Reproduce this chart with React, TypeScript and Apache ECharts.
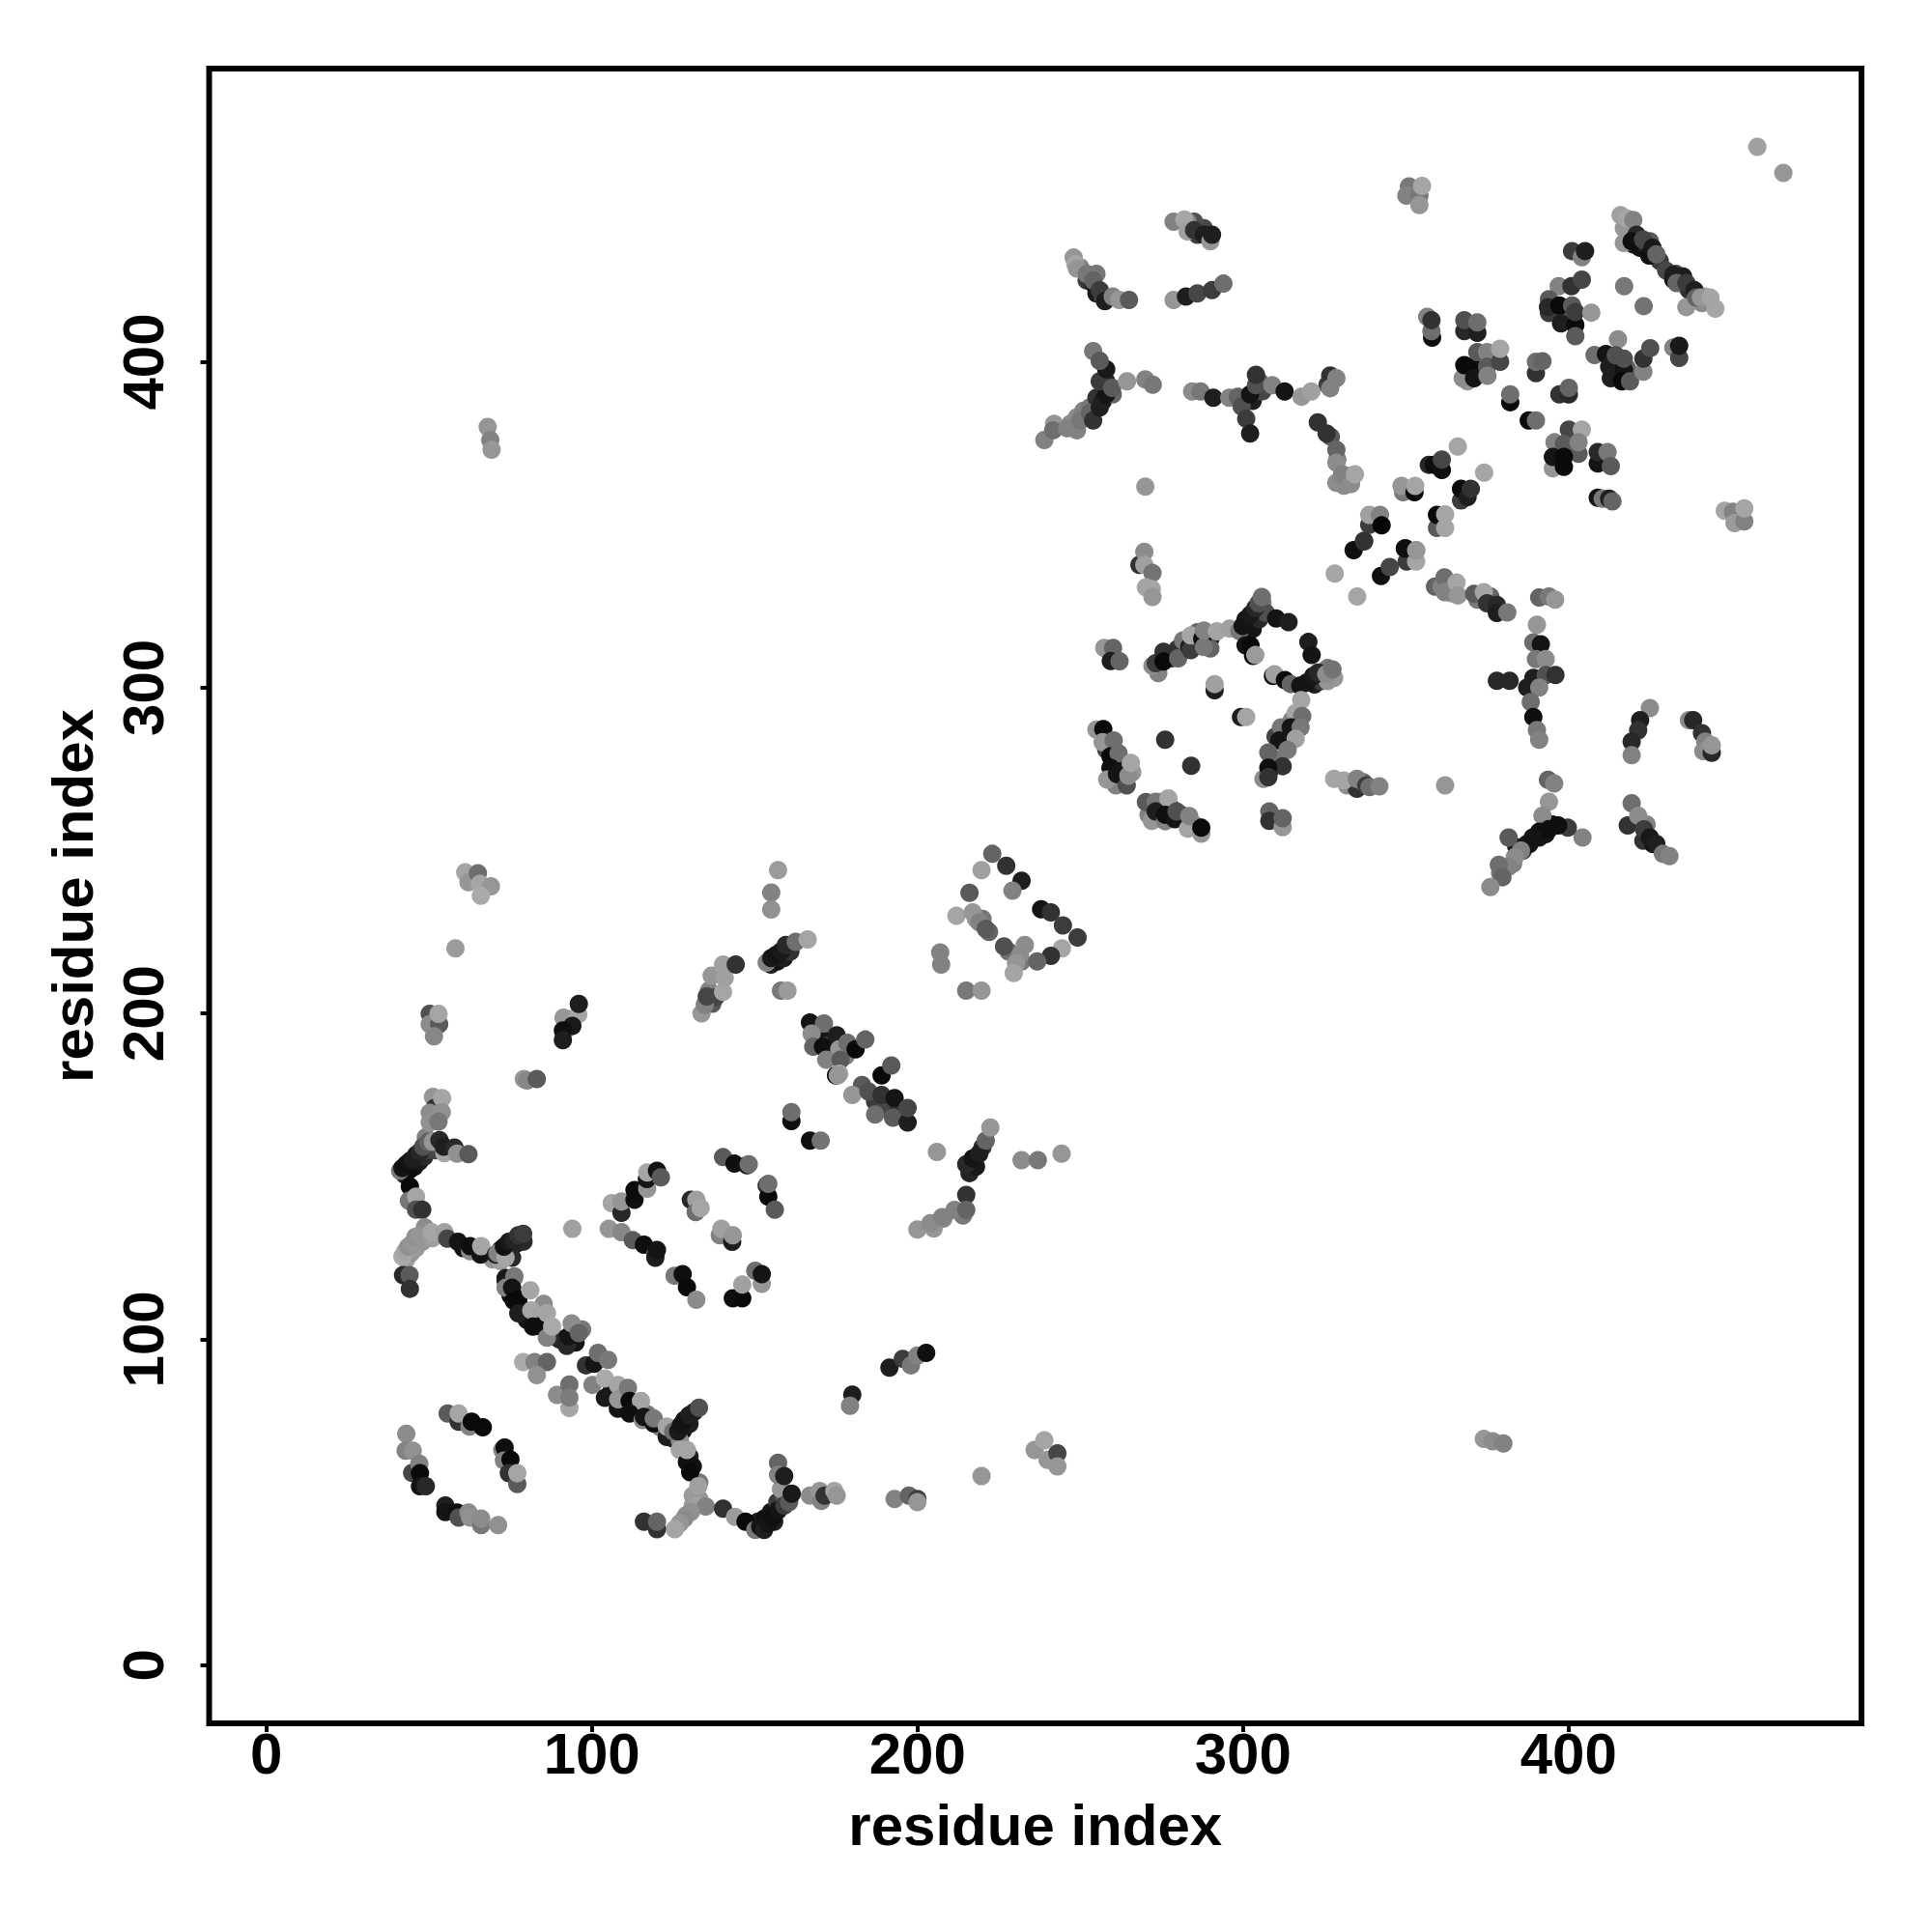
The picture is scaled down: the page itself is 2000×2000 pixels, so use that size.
import React, { useEffect, useRef } from "react";
import * as echarts from "echarts";

type P = [number, number, number];

const axisTicks = [0, 100, 200, 300, 400];
const titleText = "residue index";

// [x, y, grey level]
const fillLeft: P[] = [[42.5,150.5,30],[44,152,10],[45.5,153,15],[47,154.5,25],[48.5,156,40],[50,158,60],[52,158,70],[49,162,130],[43,124.5,160],[44.5,126.5,150],[46,128,155],[48,130,150],[51,131,160],[60.5,128,15],[69.5,124.5,150],[72,124,160],[72,127.5,30],[75,127,20],[77,129.5,30],[79,130,40],[75.5,125,40]];
const fillDescending: P[] = [[75,113.5,15],[79,109,15],[80,106,20],[83,106,90],[84,104,10],[88,101,20],[90,100,40],[95,99,20],[97,103,120],[106,84,20],[110,79,15],[113,79,15],[117,77,120],[121,73,130],[123,70,30],[125,69.5,30],[128,72,20],[130,74,30],[127,69,140],[130,64,30],[131,61,20],[133,56,120],[131,52,155],[133,51,150],[129,46,150],[131,49,155],[151,44,30],[153,45,15],[155,47,20],[157,50,60],[159,52,90],[156,44,30],[153,43,25]];
const fillMiddle: P[] = [[136,207,130],[137,203,90],[138,205,70],[155,215,30],[157,216,20],[159,217,30],[161,219,50],[93,198,40],[92,195,130],[170,193,20],[173,189,60],[178,187,130],[174,187,15],[172,190,70],[183,178,90],[187,173,60],[190,171,70],[194,170,50],[208,137,140],[205,134,150],[216,151,35],[218,153,25],[220,159,50],[214,138,120],[218,229,150],[220,229,120],[222,225,100],[228,219,110],[232,216,120],[233,221,140]];
const fillRing: P[] = [[274,304.5,130],[278,309,60],[280,312,50],[286,317,100],[290,315,40],[290,312,100],[301,316,20],[303,318,20],[305,321,40],[306,324,60],[306,326,130],[307,323,80],[322,301,30],[324,302,60],[326,302,150],[328,303,150],[326,306,120],[310,285,70],[313,283,130],[315,290,130],[316,287,100],[309,278,70],[308,274,20],[311,278,120],[258,281,70],[262,276,130],[263,272,120],[266,274,150],[261,270,130],[260,277,20],[272,263,70],[275,265,150],[278,263,40],[281,261,60],[285,258,140],[271,261,130],[332,270,140],[335,269,50],[337,271,110]];
const fillRight: P[] = [[391,254,20],[393,255,20],[395,258,15],[386,250,60],[384,251,30],[388,252,25],[379,243,120],[383,246,130],[423,253,50],[426,252,20],[424,258,130],[420,436,30],[422,435,20],[424,436,40],[425,437,90],[428,431,60],[430,428,70],[433,427,80],[435,424,40],[437,422,50],[439,421,110],[441,418,140],[442,420,165],[417,441,150],[359,331,100],[361,331,130],[363,330,140],[364,329,150],[376,328,100],[378,324,50],[372,327,120],[369,397,15],[369,394,150],[414,398,40],[416,399,90],[418,398,100],[413,395,30],[398,413,20],[399,416,60],[401,413,90],[394,415,60]];
const fillTop: P[] = [[250,429,130],[252,425,60],[254,424,30],[255,421,25],[257,420,90],[255,427,120],[248,432,150],[286,439,60],[288,441,70],[285,443,80],[283,443,130],[247,381,140],[249,383,140],[251,385,130],[253,386,120],[255,389,50],[257,388,25],[259,391,30],[258,394,40],[260,390,100],[242,381,150],[249,379,130],[301,389,20],[303,388,30],[305,391,60],[306,391,70],[305,394,90],[326,393,60],[330,364,150],[331,362,140],[327,377,90],[329,370,130],[333,365,150]];
const upperLeftA: P[] = [[61.1,243.3,165],[62.1,240.3,150],[65,243,110],[65.6,239.8,165],[69,239,150],[65.9,236.1,170],[58.1,220,155],[50.2,199.9,80],[50.2,196.7,140],[53.1,196.7,90],[51.5,193,135],[52.9,199.9,165],[79.1,179.9,150],[80.1,179.4,135],[83.1,179.9,90],[68,380,150],[68.8,376,130],[69.2,373,150]];
const leftStack: P[] = [[51.2,174.4,150],[51.7,171,50],[54,174,165],[50.2,169.5,140],[53.9,169.7,145],[50.2,166.5,145],[52.9,166.8,120],[41.1,151.7,120],[41.8,152.6,20],[43,153.7,15],[44.1,154.7,20],[45,155.3,30],[46,156.6,30],[47.2,157.6,40],[48.2,159.1,80],[49.7,160.6,100],[51.2,160.6,150],[53.2,161.1,40],[54.7,157.1,165],[54.5,159.1,30],[57.8,158.8,40],[58.6,157,145],[62.1,156.8,90],[44.1,146.9,10],[43.8,142.5,120],[46,143.8,165],[46,139.8,80],[47.9,139.8,50]];
const leftBand: P[] = [[48.7,134.4,140],[41.8,125.4,170],[42.6,126.9,165],[43.6,128.4,145],[44.8,129.4,150],[45.8,131.4,145],[47.2,131.9,150],[50.7,132.9,165],[54.7,132.9,160],[55.6,130.9,70],[58.9,129.9,20],[62.6,127,140],[62.6,128.6,15],[65.8,126,20],[66,128.6,165],[42,119.7,40],[44,119.7,90],[44.1,115.5,50],[70.5,126,30],[71,126.4,130],[73.5,125,165],[73,128.4,15],[74.5,129.9,25],[76,130.4,35],[77.4,131.9,50],[78.9,132.4,60],[73.5,118,20],[76,118.7,120],[94,133.9,160]];
const midBlock: P[] = [[105.2,133.9,150],[109.1,132.9,135],[112.6,130.4,90],[116,129,15],[119.5,126,100],[119.5,125,30],[120,127.4,20],[106.1,141.8,165],[109.1,138.8,40],[109.1,142.3,150],[113.1,142.8,15],[113.1,145.8,10],[117,146.2,150],[116.9,149.2,20],[117,151.2,165],[120,151.7,20],[121.2,149.7,90],[130.4,142.8,40],[132.1,142.8,160],[131.9,139,110],[133.4,140.3,165],[140.3,155.9,90],[143.8,153.9,15],[147.7,153.4,20],[148.2,153.7,110],[153.7,147.2,50],[154.2,143.8,10],[154.2,147.7,110],[156.2,139.8,90],[139.3,131.9,130],[139.8,133.9,160],[143.1,129.9,30],[143.3,131.9,150],[125.4,119.5,120],[127.9,120,15],[129.2,116,10],[132.1,112.1,140],[143.3,112.6,15],[146.2,112.6,10],[146.2,116.8,160],[150.2,121,110],[152.2,117,150],[152.2,120,20]];
const stripA: P[] = [[133.7,200,150],[134.7,202.7,130],[135.3,205.2,70],[136.8,211.6,150],[140.3,206.6,165],[140.8,210.9,160],[140.3,215,160],[144.2,215,50],[153.7,215.6,130],[155.1,217,25],[156.6,218,20],[158.1,219,25],[159.6,221,40],[162.6,222,110],[166.3,222.7,165],[158.1,207,120],[160.1,207,155],[155.1,237.1,130],[155.1,231.9,145],[157.2,244,155],[91.3,198.7,150],[95.8,199.7,165],[94,196.2,25],[91.1,194.8,15],[91.1,191.8,30],[96,202.9,30],[161.3,167,15],[161.3,169.7,110],[167,161,15],[170.3,161,115]];
const diagonalA: P[] = [[167,197.2,20],[171.3,196.9,110],[167.5,193.8,140],[168,189.8,100],[171,189.8,15],[175.2,193.3,30],[176,189,150],[172,185.8,130],[176.4,185.8,90],[175,181,10],[176,181.5,165],[178.5,191,110],[181,189,10],[184,192,100],[189,181,10],[192,184,90],[180,175,150],[185,176,80],[189,175,50],[193,174,20],[187,169,110],[192.5,168,90],[197,166.5,30],[197,171,70],[175.5,181,150]];
const lowerStrips: P[] = [[206,157.5,150],[215,153.7,40],[217,155.5,20],[219,157,30],[221,161,100],[222.4,165,150],[232,155,140],[237,155,120],[244.3,157,150],[200,133.7,150],[204,135.6,140],[207.6,137.5,130],[211.4,139.7,130],[215,144.3,50],[215,139.7,100],[191.4,91.3,30],[195.5,94,60],[198,92,120],[200,95,130],[202.7,95.8,15],[180,83,30],[179.3,79.6,130],[219.7,58,150],[236,66,150],[239,69,165],[240,63,150],[243,65,70],[243,61,150],[193,51,130],[197.4,52,100],[200,51,60],[200,50,150],[374,69.4,150],[376.7,68.7,140],[380,68,130]];
const descending: P[] = [[73.5,118.8,25],[76.2,119.3,120],[73.5,115.8,130],[75.5,115.8,20],[76,111.8,10],[77.4,112.3,10],[81.1,115,165],[85.2,110.9,140],[77.4,108,30],[81.4,108.9,165],[81.9,103.9,15],[86.2,108,165],[86.2,100.5,130],[87.8,103.9,170],[92.3,98,40],[92.8,100.9,20],[93.8,104.9,140],[96,101.9,100],[78.9,93,170],[82.4,93,130],[86.2,93,100],[83.1,89,145],[89.3,82.9,140],[93.1,86.1,110],[93.1,78.9,165],[93.1,82.1,125],[98.2,92,50],[100.7,92.5,20],[101.9,95.8,110],[105,93.7,120],[100.2,86,130],[104,82,25],[104,88,170],[108,78.7,20],[108,86,165],[108.1,81.6,150],[111.1,85.1,120],[111.6,81.1,10],[115.1,81.1,165],[111.6,77.2,15],[115.6,75.2,140],[116,76.2,20],[119,74.2,15],[119,75.7,120],[123,73.2,165],[125,71.7,110],[126.5,71.7,25],[127.4,73.7,20],[128.4,75.2,20],[129.9,76.7,30],[131.4,77.7,30],[132.9,79,80]];
const bottomRun: P[] = [[127,66,165],[129.2,62.3,15],[129.2,66,165],[130.2,59.2,10],[132.7,54.9,160],[132.4,49,160],[135,48.7,130],[130.4,47,145],[128.4,45,140],[127,43.5,150],[125.5,41.7,165],[116,44,50],[120,41.7,50],[120,44,100],[140.3,48,50],[144,45.5,155],[147.2,44,10],[150.2,41.5,120],[151.7,42.5,20],[152.9,41.5,30],[154.2,43.5,20],[155.7,45.5,15],[157.2,47.5,20],[158.1,54,150],[159.1,49,60],[160.6,50,90],[157.2,62.1,100],[157.2,58.4,130],[159.1,58,30],[161.4,52.6,25],[167,52,140],[170,53.4,150],[170.5,50.4,130],[171.5,52,50],[174.5,53.4,165],[175.2,52,150]];
const lowerLeftLoop: P[] = [[43,71,140],[42.8,65.8,130],[45,65.8,145],[44.8,59,70],[47,61.8,130],[47.2,58.9,10],[47.2,54.9,20],[49,54.9,40],[55.7,77.2,90],[59.1,74.7,50],[59.1,77.2,165],[62.4,73.2,130],[63.1,74.7,10],[66.5,73,10],[72.5,66,130],[73.2,66.8,15],[73,62.8,130],[75,63.1,10],[74.5,58.9,50],[77.1,55.6,90],[77.1,58.9,165],[55,49,30],[55,47,20],[58.6,46.8,15],[59.1,45.3,80],[62.1,46.8,140],[62.6,45.3,145],[66,43,120],[66,45,140],[71.2,43,145]];
const blockB: P[] = [[223,249,100],[227.3,245.3,50],[232,240.7,30],[229.2,237.7,130],[219.7,244,160],[216,237,90],[212,230,165],[217,231,150],[219,228,130],[221,226,90],[238,232,20],[241,231,50],[244.7,227,60],[249.2,223.3,60],[244.4,220,165],[241,217.7,50],[236.8,216,100],[231.5,218,140],[226.6,220.6,80],[230.3,215.4,150],[229.6,212.4,165],[207,218.7,130],[207.3,215,130],[215,207,120],[219.7,207,150]];
const ringCTop: P[] = [[268.2,337.7,50],[269.7,341.7,140],[269.7,337.7,160],[272.2,335.2,115],[270.2,330.8,165],[272,330.3,165],[272.2,327.8,150],[257.4,312.2,150],[260.1,312.2,100],[259.4,308.2,30],[262.1,308.1,100],[272.2,306.7,140],[273.2,307.5,60],[275.6,311,50],[275.6,308,10],[280.1,309,100],[281.6,314.5,120],[283.5,312.5,30],[284,311.5,60],[284,316,165],[287.5,315,15],[288,312.5,120],[288,317.5,130],[292,317.3,165],[295.9,318.1,160],[298.9,317.4,120],[299.9,318.9,20],[300.8,320.9,20],[302.3,322.4,25],[303.8,324.4,40],[304.8,325.9,80],[305.8,327.8,110],[300.8,313,20],[302.3,313,10],[303.1,309.7,10],[303.8,310,155],[310.2,321.2,20],[314,320.1,30],[320.1,314,30],[321.1,310,20],[309.2,303.6,20],[309.7,304.1,160],[312.9,302.3,10],[314.7,301.1,100],[317.6,300.6,20],[319.6,301.6,20],[321.6,303.6,25],[323.1,304.6,40],[325.6,304.1,140],[327.5,305.6,115]];
const ringCBottom: P[] = [[317.9,296.2,165],[291.3,299.2,30],[291.3,301.1,160],[299.4,291,30],[301,291,165],[316.2,292.2,165],[318.2,291.3,110],[311.7,287.8,120],[314.7,287.8,20],[317.7,287.8,120],[311.2,283.8,20],[316.2,284.3,160],[307.8,280.1,100],[313.7,280.9,120],[312.2,275.9,50],[306.3,272,140],[307.8,275.4,15],[307.8,272.5,50],[255,287.1,150],[257.1,287.3,10],[256.9,283.3,150],[260.3,283.8,110],[259.3,278.9,10],[261.8,279.9,110],[259.3,275.4,15],[258.3,271.8,150],[261.3,273.5,20],[264.3,270,80],[264.8,273,140],[265.6,276.9,165],[276.1,284,50],[284.1,276,50],[272,259.1,150],[270.2,264.9,90],[273.2,265,120],[273.2,262,30],[276.1,259,130],[277.1,266,165],[276.1,261,15],[279.1,259.6,20],[279.6,262,80],[283.1,256.7,165],[283.5,260.6,130],[287.2,255.2,150],[287.2,257,10],[308.1,262,100],[308.1,259.1,50],[312.2,257.2,150],[312.2,259.9,100],[328,272,165],[331,271.5,165],[335,272,130],[337.9,270,60],[338.9,269.5,110],[341.9,269.7,130],[362.1,270,150]];
const crossD: P[] = [[328.2,335,165],[335.1,328,165],[342.4,334.3,15],[345.1,337,70],[334,342.2,15],[337.2,345.1,70],[350.3,338.7,60],[350,342.7,10],[353.2,338.7,165],[353.2,342.2,130],[361.9,333.8,110],[362,329.3,130],[365.6,332.3,165],[366,328.3,150],[371,328.8,90],[374,329.3,165],[375,325.9,50],[378,325.4,40],[378,322.9,30],[381.2,323.1,120],[378,302.1,40],[381.9,302.1,40]];
const rightColumn: P[] = [[391,327.7,100],[394,328,120],[395.9,327,150],[390.3,319.3,150],[389.2,313.9,110],[391.5,313.3,20],[390,308.8,120],[393,308.8,140],[389.2,303,30],[393,303.9,80],[396,303.9,50],[387.3,300,30],[391,300,130],[388.4,295.6,110],[389.2,291,15],[390.3,287,120],[391,284,130],[393.7,271.7,100],[395.6,270.6,130],[394,265,150],[392,260.7,140],[404.3,254,130],[399.8,257,60],[396.8,257.7,15],[394,256.6,15],[391,255.8,15],[389,254,20],[387.2,252,20],[381.6,254,90],[385.4,250,130],[383.5,248,140],[381.6,245,130],[378.6,245.6,110],[379.7,241.8,100],[376,238.8,140],[425,293.7,140],[422,290,30],[421.4,286.9,50],[419.4,283.4,40],[419.4,279.3,130],[437,290,140],[438.3,290,40],[441,286,50],[442,283.4,130],[441.4,280.5,140],[444,280,40],[444,282.3,150],[419.4,264.5,110],[418.2,257.7,50],[421.4,260.7,140],[423.2,256.5,60],[425,254,25],[427,252,30],[429,249,120],[431,248.3,130]];
const topRight: P[] = [[351,453.8,120],[350.2,451,130],[354.2,450.9,120],[354.2,448.1,150],[355,454,165],[458,466,160],[466,458,150],[416,445,160],[418,444,165],[417,436.5,150],[419.9,443.5,130],[420.9,439,40],[419.4,437,15],[422.9,437.5,70],[424.8,432.6,15],[425.8,435,25],[427,433,100],[432.2,425.2,15],[432.2,426.7,30],[435.2,426.2,30],[433.2,424.2,100],[436.2,424.2,60],[438.7,422,30],[436.2,416.8,150],[439.2,419.7,100],[440.7,419.7,150],[443.6,419.7,165],[445.1,416.3,165],[401.1,434,60],[404.1,432.1,130],[405.1,434,30],[397,423.2,130],[400.9,423.2,50],[404.1,425.2,70],[417.1,423.2,120],[423.1,417.1,115],[394,419.2,90],[393.7,416.8,40],[397.2,417.3,10],[401.1,417.3,90],[397.7,411.8,30],[402.1,411.3,10],[402.1,407.9,90],[402.1,415.3,60],[407,415.1,150],[415.2,406.9,140]];
const rightBlock: P[] = [[408,402.1,110],[411.5,402.4,20],[412.5,398.5,30],[414.5,402,80],[417,397.5,20],[416.4,394,10],[417,401,80],[418.9,394,90],[423,397,130],[423,401,50],[425.1,404.2,80],[432.2,404.4,130],[434,401.2,70],[434,404.9,25],[358.1,407.4,15],[357.9,409.4,110],[356.6,413.8,130],[357.9,412.8,50],[368,409.4,40],[368,412.8,80],[372,408.9,30],[372,412.1,110],[367.5,395,140],[368,399,10],[370.5,398.5,10],[371,395,20],[372,403,90],[375,403,130],[375,398.5,90],[375.1,395.7,130],[379,400,70],[379,404,165],[382.1,387.6,10],[382.1,390,110],[390,396.5,50],[390,400,110],[392,400.2,100],[387.8,382,10],[390,382,110],[397.2,390,50],[400.1,390,40],[400.1,392,100],[400.1,379.2,70],[404.1,379.2,165],[395.7,375.3,130],[398.6,374.8,90],[403.1,371.8,90],[403.1,375.3,130],[395.2,367.3,150],[395.2,370.8,20],[398.6,367.8,10],[398.6,370.8,10],[409,368.8,20],[409,372.3,40],[412,372.3,120],[413,368,90],[409,358.3,20],[410.5,358,120],[412.5,358,30],[413.5,357.2,100],[448,354.3,165],[450.5,354,130],[451,350.5,155],[454,351,130],[454,355,165]];
const crossE: P[] = [[366,374,165],[374.1,366,165],[357.1,368.4,40],[358.6,368.4,15],[361.1,366.8,15],[361.1,370,70],[349.2,360,120],[348.7,361.9,150],[352.7,360,10],[352.9,361.9,165],[367,357.5,60],[367,361,10],[369,358.5,30],[370,361,50],[359.6,349,90],[359.6,353,10],[362.1,349,165],[362.1,353.2,165],[338.8,350,60],[338.8,353,160],[342.1,353,130],[342.6,349.8,5],[337.2,344.9,50],[349.7,342.7,15],[353.2,342.1,150]];
const topMiddle: P[] = [[248.5,430,165],[249,428.6,150],[252,427,120],[254,425,100],[256,422,60],[257.6,418.6,30],[260,420,130],[262,419,150],[265,419,90],[278.7,443,130],[282,443.7,165],[283,440,160],[285,440.4,50],[288,439,30],[290,437,150],[290.5,439,30],[278.7,419,150],[282.5,420,30],[286,421,70],[290.5,422,60],[294,424,110],[239,376,130],[241.7,379,110],[246,379.6,130],[250,382,120],[253,384.4,100],[254,382,50],[256,386,30],[258,390,20],[256,394,60],[258,397.7,25],[254,403.3,120],[256,400.3,90],[259.8,392,90],[264.4,394,150],[270,394.6,130],[272.3,393,120],[270,361.7,150]];
const topArc: P[] = [[284.4,390.9,140],[287,390.9,120],[290.9,389,30],[295.8,389,130],[298.4,389.3,100],[299.6,386.3,80],[301,382.5,60],[302.2,378,30],[302.2,390,20],[304,392.8,80],[304,396,50],[309,392.8,130],[312.8,390.9,20],[318,389.3,150],[321,390.9,160],[326.8,395.8,50],[326.8,391.9,130],[328.7,395,130],[323,381.4,50],[325.7,378,50],[328.7,373,100],[328.7,369,140],[328.7,362.9,140],[330.5,365.5,130],[333.2,362.5,140],[334.4,365.5,165]];

const allPoints: P[] = [
  ...fillLeft, ...fillDescending, ...fillMiddle, ...fillRing, ...fillRight, ...fillTop,
  ...upperLeftA, ...leftStack, ...leftBand, ...midBlock, ...stripA, ...diagonalA, ...lowerStrips,
  ...descending, ...bottomRun, ...lowerLeftLoop, ...blockB, ...ringCTop, ...ringCBottom, ...crossD,
  ...rightColumn, ...topRight, ...rightBlock, ...crossE, ...topMiddle, ...topArc,
];

const FONT = "Liberation Sans";

export default function App() {
  const ref = useRef<HTMLDivElement>(null);
  useEffect(() => {
    const chart = echarts.init(ref.current!, null, { renderer: "svg" });
    const labelStyle = { fontFamily: FONT, fontWeight: "bold" as const, fontSize: 60, color: "#000" };
    const tick = { show: true, length: 9, lineStyle: { color: "#000", width: 4 }, customValues: axisTicks };
    chart.setOption({
      animation: false,
      backgroundColor: "#fff",
      grid: { left: 216.5, top: 71, width: 1710.5, height: 1713, show: true, borderColor: "#000", borderWidth: 6, backgroundColor: "transparent" },
      xAxis: {
        type: "value", min: -17.56, max: 490, splitLine: { show: false }, axisLine: { show: false, onZero: false },
        axisTick: tick,
        axisLabel: { ...labelStyle, customValues: axisTicks, margin: 1, hideOverlap: false, showMinLabel: true },
        name: titleText, nameLocation: "middle", nameGap: 75, nameTextStyle: { ...labelStyle },
      },
      yAxis: {
        type: "value", min: -17.88, max: 490, splitLine: { show: false }, axisLine: { show: false, onZero: false },
        axisTick: tick,
        axisLabel: { ...labelStyle, customValues: axisTicks, rotate: 90, margin: 38, hideOverlap: false, showMinLabel: true },
        name: titleText, nameLocation: "middle", nameGap: 111, nameTextStyle: { ...labelStyle },
      },
      series: [{
        type: "scatter", symbol: "circle", symbolSize: 19, clip: false,
        encode: { x: 0, y: 1 },
        data: allPoints,
        itemStyle: { opacity: 1, color: (p: any) => { const g = p.data[2]; return `rgb(${g},${g},${g})`; } },
      }],
    });
    return () => chart.dispose();
  }, []);
  return <div ref={ref} style={{ position: "absolute", left: 0, top: 0, width: 2000, height: 2000 }} />;
}
